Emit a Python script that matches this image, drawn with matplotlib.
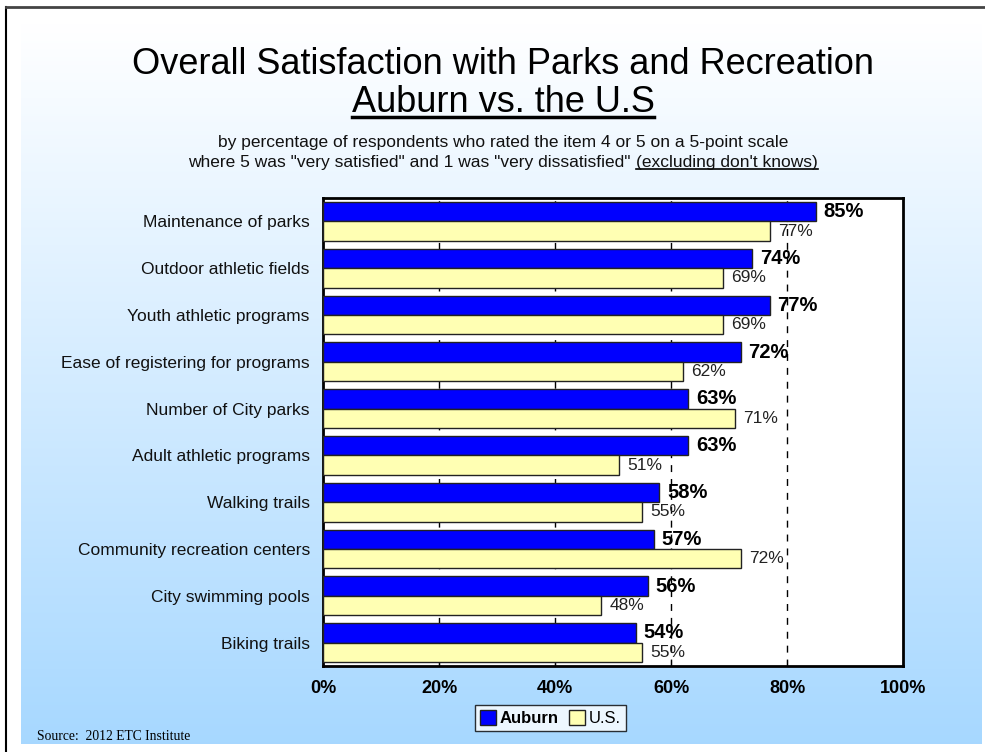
import matplotlib.pyplot as plt
import matplotlib.lines as mlines
import numpy as np

plt.rcParams['font.family'] = ['Liberation Sans', 'DejaVu Sans']

# data
categories = ["Maintenance of parks", "Outdoor athletic fields", "Youth athletic programs",
              "Ease of registering for programs", "Number of City parks",
              "Adult athletic programs", "Walking trails", "Community recreation centers",
              "City swimming pools", "Biking trails"]
auburn = [85, 74, 77, 72, 63, 63, 58, 57, 56, 54]
us = [77, 69, 69, 62, 71, 51, 55, 72, 48, 55]
xticks = [0, 20, 40, 60, 80, 100]
xticklabels = ["0%", "20%", "40%", "60%", "80%", "100%"]

W, H = 985, 752
fig = plt.figure(figsize=(W / 100, H / 100), dpi=100)
fig.patch.set_facecolor("white")

# gradient background panel
bg = fig.add_axes([0, 0, 1, 1], zorder=-10)
bg.set_xlim(0, W)
bg.set_ylim(H, 0)
bg.axis("off")
grad = np.linspace(0, 1, 256).reshape(-1, 1)
top_c = np.array([1.0, 1.0, 1.0])
bot_c = np.array([0.655, 0.847, 1.0])
img = top_c + (bot_c - top_c) * grad[..., None]
bg.imshow(img, extent=[21, 982, 744, 23], aspect="auto", interpolation="bilinear")
bg.plot([6, 6], [7, H], color="black", lw=1.5)
bg.plot([6, W], [7, 7], color="#444444", lw=2)

ax = fig.add_axes([323 / W, 1 - 666 / H, 580 / W, 468 / H])
ax.set_facecolor("white")

y = np.arange(len(categories))
h = 0.415
ax.barh(y - h / 2, auburn, height=h, color="#0000FF", edgecolor="#222222", lw=1, zorder=3)
ax.barh(y + h / 2, us, height=h, color="#FFFFB3", edgecolor="#222222", lw=1, zorder=3)

for i in range(len(categories)):
    ax.annotate(f"{auburn[i]}%", (auburn[i], y[i] - h / 2), xytext=(5.5, 0),
                textcoords="offset points", va="center", ha="left",
                fontsize=14.5, fontweight="bold", zorder=5)
    ax.annotate(f"{us[i]}%", (us[i], y[i] + h / 2), xytext=(6, 0),
                textcoords="offset points", va="center", ha="left",
                fontsize=12.5, color="#222222", zorder=5)

ax.set_xlim(0, 100)
ax.set_ylim(len(categories) - 0.5, -0.5)
for g in [20, 40, 60, 80]:
    ax.axvline(g, color="black", lw=1, ls=(0, (5, 5)), zorder=1)

ax.set_xticks(xticks)
ax.set_xticklabels(xticklabels, fontweight="bold", fontsize=13)
ax.set_yticks(y)
ax.set_yticklabels(categories, fontsize=12.5, color="#111111")
ax.tick_params(axis="y", length=0, pad=9.5)
ax.tick_params(axis="x", direction="in", length=4, pad=10)
for s in ax.spines.values():
    s.set_linewidth(2)
    s.set_color("black")

# titles
cx = 503 / W
t1 = fig.text(cx, 1 - 64 / H, "Overall Satisfaction with Parks and Recreation",
              ha="center", va="center", fontsize=26)
t2 = fig.text(cx, 1 - 103 / H, "Auburn vs. the U.S", ha="center", va="center", fontsize=26)
fig.text(cx, 1 - 143 / H, "by percentage of respondents who rated the item 4 or 5 on a 5-point scale",
         ha="center", va="center", fontsize=12.5, color="#111111")
s1 = fig.text(cx, 1 - 163 / H, 'where 5 was "very satisfied" and 1 was "very dissatisfied" ',
              ha="right", va="center", fontsize=12.5, color="#111111")
s2 = fig.text(cx, 1 - 163 / H, "(excluding don't knows)", ha="left", va="center",
              fontsize=12.5, color="#111111")

fig.text(37 / W, 1 - 737 / H, "Source:  2012 ETC Institute", ha="left", va="center",
         fontsize=9.8, family="Liberation Serif")

# shift the split second line so that the whole line is centred, then underline
fig.canvas.draw()
r = fig.canvas.get_renderer()
w1 = s1.get_window_extent(r).width
w2 = s2.get_window_extent(r).width
split = 503 - (w1 + w2) / 2 + w1
s1.set_x(split / W)
s2.set_x(split / W)
fig.canvas.draw()
for t, lw, gap in [(t2, 2.5, 4), (s2, 1.2, 2)]:
    bb = t.get_window_extent(r)
    yy = bb.y0 + gap
    fig.add_artist(mlines.Line2D([bb.x0 / W, bb.x1 / W], [yy / H, yy / H],
                                 color="black", lw=lw))

# legend
hA = plt.Rectangle((0, 0), 1, 1, fc="#0000FF", ec="#222222")
hU = plt.Rectangle((0, 0), 1, 1, fc="#FFFFB3", ec="#222222")
leg = fig.legend([hA, hU], ["Auburn", "U.S."], loc="center", ncol=2,
                 bbox_to_anchor=(550 / W, 1 - 718 / H), frameon=True, fancybox=False,
                 edgecolor="black", fontsize=12, handlelength=1.0, handleheight=1.0,
                 handletextpad=0.2, columnspacing=0.6, borderpad=0.3, borderaxespad=0)
leg.get_frame().set_linewidth(1)
leg.get_texts()[0].set_fontweight("bold")

fig.savefig("out.png", dpi=100, facecolor="white")
